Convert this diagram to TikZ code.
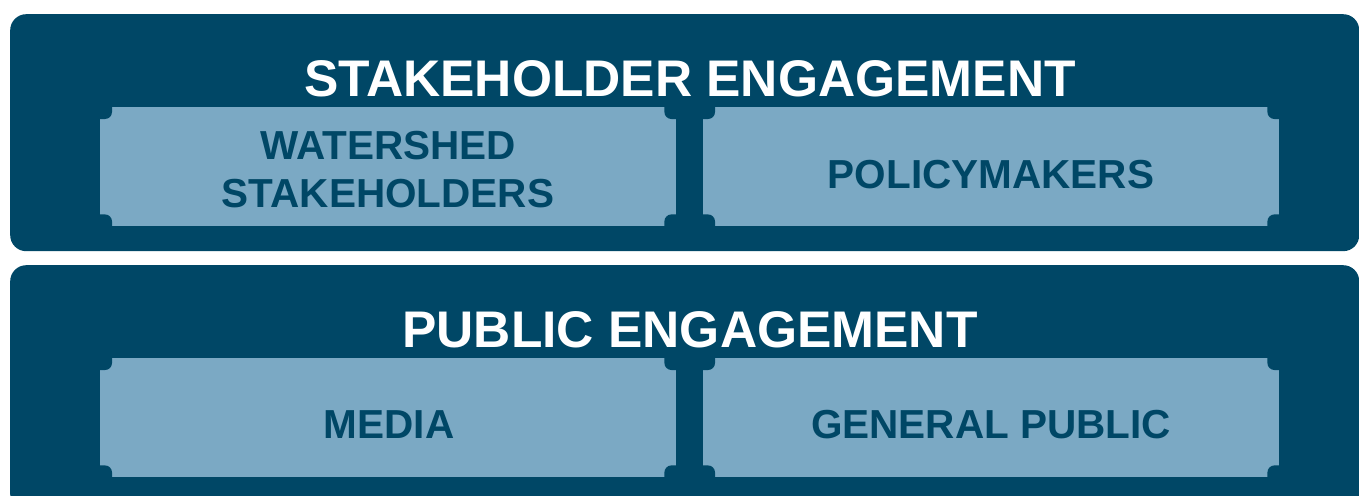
\documentclass[tikz,border=0pt]{standalone}
\usepackage{fontspec}
\setmainfont{Liberation Sans}
\usetikzlibrary{calc}
\definecolor{deep}{RGB}{0,71,102}
\definecolor{pale}{RGB}{123,169,196}
\tikzset{
  band/.style={fill=deep, rounded corners=16pt, inner sep=0pt, draw=none, anchor=north west},
  card/.style={fill=pale, inner sep=0pt, minimum width=576pt, minimum height=119pt, draw=none, anchor=north west},
  heading/.style={text=white, font=\fontsize{51.5}{60}\selectfont\bfseries, inner sep=0pt, anchor=base},
  cardtext/.style={text=deep, font=\fontsize{40.5}{47.5}\selectfont\bfseries, inner sep=0pt, anchor=base, align=center},
  notchmark/.style={fill=deep, rounded corners=7pt},
}
\begin{document}
\begin{tikzpicture}[x=1pt,y=-1pt]
  \useasboundingbox (0,0) rectangle (1359,495);
  % two dark bands
  \node[band, minimum width=1349pt, minimum height=237pt] (stake) at (10,14) {};
  \node[band, minimum width=1349pt, minimum height=245pt] (public) at (10,265) {};
  % pale cards
  \node[card] (watershed) at (100,107) {};
  \node[card] (policy) at (703,107) {};
  \node[card] (media) at (100,358) {};
  \node[card] (general) at (703,358) {};
  % notched corners of the cards
  \foreach \c in {watershed,policy,media,general}{
    \foreach \a in {north west,north east,south west,south east}{
      \fill[notchmark] ($(\c.\a)-(12,12)$) rectangle ($(\c.\a)+(12,12)$);
    }
  }
  % headings
  \node[heading] (stakehead) at (690,96) {STAKEHOLDER ENGAGEMENT};
  \node[heading] (publichead) at (690,347) {PUBLIC ENGAGEMENT};
  % card labels (base anchor of the two-line label sits on its last line)
  \node[cardtext] (watershedtext) at (388,207) {WATERSHED\\STAKEHOLDERS};
  \node[cardtext] (policytext) at (991,188) {POLICYMAKERS};
  \node[cardtext] (mediatext) at (389,438) {MEDIA};
  \node[cardtext] (generaltext) at (991,438) {GENERAL PUBLIC};
\end{tikzpicture}
\end{document}
